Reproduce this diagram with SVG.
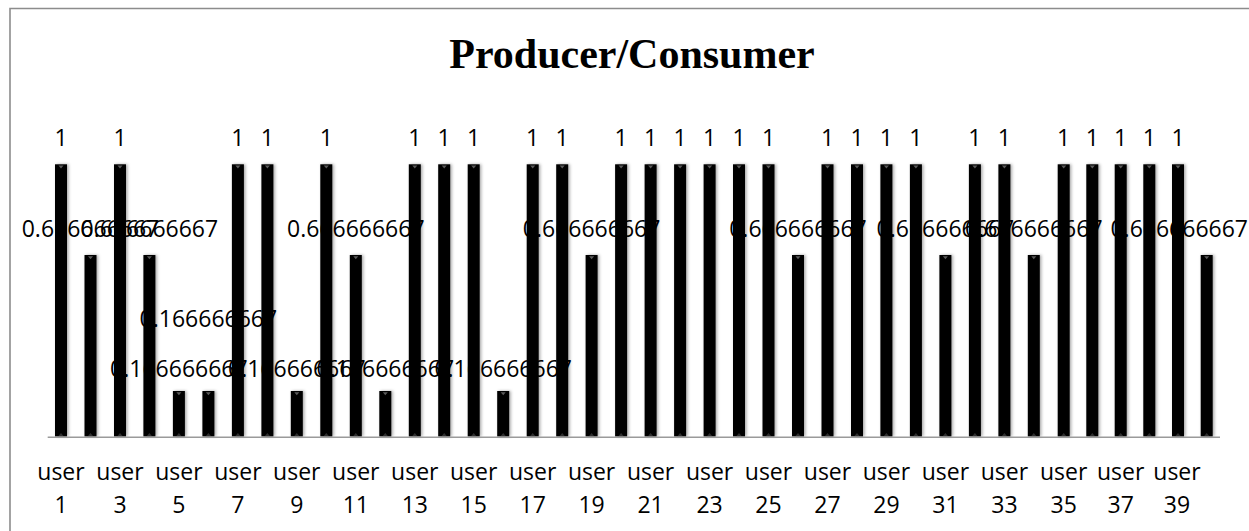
<svg xmlns="http://www.w3.org/2000/svg" width="1249" height="531" viewBox="0 0 1249 531">
<style>
.bg{fill:#fff}
.frame{fill:none;stroke:#8c8c8c;stroke-width:1.6}
.axis{stroke:#9a9a9a;stroke-width:1.6}
.bar{fill:#000;filter:url(#sh)}
.tt{fill:#5a5a5a}
.tb{fill:#2e2e2e}
.lbl{font-family:"Open Sans","Noto Sans",sans-serif;font-size:23px;fill:#000;text-anchor:middle}
.title{font-family:"Liberation Serif","Times New Roman",serif;font-weight:bold;font-size:42px;fill:#000;text-anchor:middle}
</style>
<defs>
<filter id="sh" x="-60%" y="-5%" width="220%" height="110%">
<feDropShadow dx="1.5" dy="0" stdDeviation="1.4" flood-color="#000" flood-opacity="0.35"/>
</filter>
<path id="ttri" d="M-2.5,0 H2.5 L0,3 Z"/>
<path id="btri" d="M-2.5,0 H2.5 L0,-3 Z"/>
</defs>
<rect class="bg" x="0" y="0" width="1249" height="531"/>
<path class="frame" d="M10,531 V8.5 H1249"/>
<text class="title" x="632" y="67.5">Producer/Consumer</text>

<g id="data-labels" class="lbl">
<text x="61" y="146">1</text>
<text x="90.5" y="237.3">0.666666667</text>
<text x="120" y="146">1</text>
<text x="149.4" y="237.3">0.666666667</text>
<text x="178.9" y="376.7">0.166666667</text>
<text x="208.4" y="326.7">0.166666667</text>
<text x="237.9" y="146">1</text>
<text x="267.4" y="146">1</text>
<text x="296.8" y="376.7">0.166666667</text>
<text x="326.3" y="146">1</text>
<text x="355.8" y="237.3">0.666666667</text>
<text x="385.3" y="376.7">0.166666667</text>
<text x="414.8" y="146">1</text>
<text x="444.2" y="146">1</text>
<text x="473.7" y="146">1</text>
<text x="503.2" y="376.7">0.166666667</text>
<text x="532.7" y="146">1</text>
<text x="562.2" y="146">1</text>
<text x="591.6" y="237.3">0.666666667</text>
<text x="621.1" y="146">1</text>
<text x="650.6" y="146">1</text>
<text x="680.1" y="146">1</text>
<text x="709.6" y="146">1</text>
<text x="739" y="146">1</text>
<text x="768.5" y="146">1</text>
<text x="798" y="237.3">0.666666667</text>
<text x="827.5" y="146">1</text>
<text x="857" y="146">1</text>
<text x="886.4" y="146">1</text>
<text x="915.9" y="146">1</text>
<text x="945.4" y="237.3">0.666666667</text>
<text x="974.9" y="146">1</text>
<text x="1004.4" y="146">1</text>
<text x="1033.8" y="237.3">0.666666667</text>
<text x="1063.7" y="146">1</text>
<text x="1092.3" y="146">1</text>
<text x="1120.7" y="146">1</text>
<text x="1149.3" y="146">1</text>
<text x="1178" y="146">1</text>
<text x="1248" y="237.3" style="text-anchor:end">0.666666667</text>
</g>

<g id="bars">
<g id="bar-1"><rect class="bar" x="55" y="164.3" width="12" height="272.2"/><use href="#ttri" class="tt" x="61" y="165.5"/><use href="#btri" class="tb" x="61" y="436"/></g>
<g id="bar-2"><rect class="bar" x="84.5" y="255" width="12" height="181.5"/><use href="#ttri" class="tt" x="90.5" y="256.2"/><use href="#btri" class="tb" x="90.5" y="436"/></g>
<g id="bar-3"><rect class="bar" x="114" y="164.3" width="12" height="272.2"/><use href="#ttri" class="tt" x="120" y="165.5"/><use href="#btri" class="tb" x="120" y="436"/></g>
<g id="bar-4"><rect class="bar" x="143.4" y="255" width="12" height="181.5"/><use href="#ttri" class="tt" x="149.4" y="256.2"/><use href="#btri" class="tb" x="149.4" y="436"/></g>
<g id="bar-5"><rect class="bar" x="172.9" y="391" width="12" height="45.5"/><use href="#ttri" class="tt" x="178.9" y="392.2"/><use href="#btri" class="tb" x="178.9" y="436"/></g>
<g id="bar-6"><rect class="bar" x="202.4" y="391" width="12" height="45.5"/><use href="#ttri" class="tt" x="208.4" y="392.2"/><use href="#btri" class="tb" x="208.4" y="436"/></g>
<g id="bar-7"><rect class="bar" x="231.9" y="164.3" width="12" height="272.2"/><use href="#ttri" class="tt" x="237.9" y="165.5"/><use href="#btri" class="tb" x="237.9" y="436"/></g>
<g id="bar-8"><rect class="bar" x="261.4" y="164.3" width="12" height="272.2"/><use href="#ttri" class="tt" x="267.4" y="165.5"/><use href="#btri" class="tb" x="267.4" y="436"/></g>
<g id="bar-9"><rect class="bar" x="290.8" y="391" width="12" height="45.5"/><use href="#ttri" class="tt" x="296.8" y="392.2"/><use href="#btri" class="tb" x="296.8" y="436"/></g>
<g id="bar-10"><rect class="bar" x="320.3" y="164.3" width="12" height="272.2"/><use href="#ttri" class="tt" x="326.3" y="165.5"/><use href="#btri" class="tb" x="326.3" y="436"/></g>
<g id="bar-11"><rect class="bar" x="349.8" y="255" width="12" height="181.5"/><use href="#ttri" class="tt" x="355.8" y="256.2"/><use href="#btri" class="tb" x="355.8" y="436"/></g>
<g id="bar-12"><rect class="bar" x="379.3" y="391" width="12" height="45.5"/><use href="#ttri" class="tt" x="385.3" y="392.2"/><use href="#btri" class="tb" x="385.3" y="436"/></g>
<g id="bar-13"><rect class="bar" x="408.8" y="164.3" width="12" height="272.2"/><use href="#ttri" class="tt" x="414.8" y="165.5"/><use href="#btri" class="tb" x="414.8" y="436"/></g>
<g id="bar-14"><rect class="bar" x="438.2" y="164.3" width="12" height="272.2"/><use href="#ttri" class="tt" x="444.2" y="165.5"/><use href="#btri" class="tb" x="444.2" y="436"/></g>
<g id="bar-15"><rect class="bar" x="467.7" y="164.3" width="12" height="272.2"/><use href="#ttri" class="tt" x="473.7" y="165.5"/><use href="#btri" class="tb" x="473.7" y="436"/></g>
<g id="bar-16"><rect class="bar" x="497.2" y="391" width="12" height="45.5"/><use href="#ttri" class="tt" x="503.2" y="392.2"/><use href="#btri" class="tb" x="503.2" y="436"/></g>
<g id="bar-17"><rect class="bar" x="526.7" y="164.3" width="12" height="272.2"/><use href="#ttri" class="tt" x="532.7" y="165.5"/><use href="#btri" class="tb" x="532.7" y="436"/></g>
<g id="bar-18"><rect class="bar" x="556.2" y="164.3" width="12" height="272.2"/><use href="#ttri" class="tt" x="562.2" y="165.5"/><use href="#btri" class="tb" x="562.2" y="436"/></g>
<g id="bar-19"><rect class="bar" x="585.6" y="255" width="12" height="181.5"/><use href="#ttri" class="tt" x="591.6" y="256.2"/><use href="#btri" class="tb" x="591.6" y="436"/></g>
<g id="bar-20"><rect class="bar" x="615.1" y="164.3" width="12" height="272.2"/><use href="#ttri" class="tt" x="621.1" y="165.5"/><use href="#btri" class="tb" x="621.1" y="436"/></g>
<g id="bar-21"><rect class="bar" x="644.6" y="164.3" width="12" height="272.2"/><use href="#ttri" class="tt" x="650.6" y="165.5"/><use href="#btri" class="tb" x="650.6" y="436"/></g>
<g id="bar-22"><rect class="bar" x="674.1" y="164.3" width="12" height="272.2"/><use href="#ttri" class="tt" x="680.1" y="165.5"/><use href="#btri" class="tb" x="680.1" y="436"/></g>
<g id="bar-23"><rect class="bar" x="703.6" y="164.3" width="12" height="272.2"/><use href="#ttri" class="tt" x="709.6" y="165.5"/><use href="#btri" class="tb" x="709.6" y="436"/></g>
<g id="bar-24"><rect class="bar" x="733" y="164.3" width="12" height="272.2"/><use href="#ttri" class="tt" x="739" y="165.5"/><use href="#btri" class="tb" x="739" y="436"/></g>
<g id="bar-25"><rect class="bar" x="762.5" y="164.3" width="12" height="272.2"/><use href="#ttri" class="tt" x="768.5" y="165.5"/><use href="#btri" class="tb" x="768.5" y="436"/></g>
<g id="bar-26"><rect class="bar" x="792" y="255" width="12" height="181.5"/><use href="#ttri" class="tt" x="798" y="256.2"/><use href="#btri" class="tb" x="798" y="436"/></g>
<g id="bar-27"><rect class="bar" x="821.5" y="164.3" width="12" height="272.2"/><use href="#ttri" class="tt" x="827.5" y="165.5"/><use href="#btri" class="tb" x="827.5" y="436"/></g>
<g id="bar-28"><rect class="bar" x="851" y="164.3" width="12" height="272.2"/><use href="#ttri" class="tt" x="857" y="165.5"/><use href="#btri" class="tb" x="857" y="436"/></g>
<g id="bar-29"><rect class="bar" x="880.4" y="164.3" width="12" height="272.2"/><use href="#ttri" class="tt" x="886.4" y="165.5"/><use href="#btri" class="tb" x="886.4" y="436"/></g>
<g id="bar-30"><rect class="bar" x="909.9" y="164.3" width="12" height="272.2"/><use href="#ttri" class="tt" x="915.9" y="165.5"/><use href="#btri" class="tb" x="915.9" y="436"/></g>
<g id="bar-31"><rect class="bar" x="939.4" y="255" width="12" height="181.5"/><use href="#ttri" class="tt" x="945.4" y="256.2"/><use href="#btri" class="tb" x="945.4" y="436"/></g>
<g id="bar-32"><rect class="bar" x="968.9" y="164.3" width="12" height="272.2"/><use href="#ttri" class="tt" x="974.9" y="165.5"/><use href="#btri" class="tb" x="974.9" y="436"/></g>
<g id="bar-33"><rect class="bar" x="998.4" y="164.3" width="12" height="272.2"/><use href="#ttri" class="tt" x="1004.4" y="165.5"/><use href="#btri" class="tb" x="1004.4" y="436"/></g>
<g id="bar-34"><rect class="bar" x="1027.8" y="255" width="12" height="181.5"/><use href="#ttri" class="tt" x="1033.8" y="256.2"/><use href="#btri" class="tb" x="1033.8" y="436"/></g>
<g id="bar-35"><rect class="bar" x="1057.7" y="164.3" width="12" height="272.2"/><use href="#ttri" class="tt" x="1063.7" y="165.5"/><use href="#btri" class="tb" x="1063.7" y="436"/></g>
<g id="bar-36"><rect class="bar" x="1086.3" y="164.3" width="12" height="272.2"/><use href="#ttri" class="tt" x="1092.3" y="165.5"/><use href="#btri" class="tb" x="1092.3" y="436"/></g>
<g id="bar-37"><rect class="bar" x="1114.7" y="164.3" width="12" height="272.2"/><use href="#ttri" class="tt" x="1120.7" y="165.5"/><use href="#btri" class="tb" x="1120.7" y="436"/></g>
<g id="bar-38"><rect class="bar" x="1143.3" y="164.3" width="12" height="272.2"/><use href="#ttri" class="tt" x="1149.3" y="165.5"/><use href="#btri" class="tb" x="1149.3" y="436"/></g>
<g id="bar-39"><rect class="bar" x="1172" y="164.3" width="12" height="272.2"/><use href="#ttri" class="tt" x="1178" y="165.5"/><use href="#btri" class="tb" x="1178" y="436"/></g>
<g id="bar-40"><rect class="bar" x="1200.7" y="255" width="12" height="181.5"/><use href="#ttri" class="tt" x="1206.7" y="256.2"/><use href="#btri" class="tb" x="1206.7" y="436"/></g>
</g>

<g id="connectors">
<line class="axis" x1="47.7" y1="437.3" x2="1220" y2="437.3"/>
</g>

<g id="axis-labels" class="lbl">
<text x="61"><tspan x="61" y="480">user</tspan><tspan x="61" y="512.5">1</tspan></text>
<text><tspan x="120" y="480">user</tspan><tspan x="120" y="512.5">3</tspan></text>
<text><tspan x="178.9" y="480">user</tspan><tspan x="178.9" y="512.5">5</tspan></text>
<text><tspan x="237.9" y="480">user</tspan><tspan x="237.9" y="512.5">7</tspan></text>
<text><tspan x="296.8" y="480">user</tspan><tspan x="296.8" y="512.5">9</tspan></text>
<text><tspan x="355.8" y="480">user</tspan><tspan x="355.8" y="512.5">11</tspan></text>
<text><tspan x="414.8" y="480">user</tspan><tspan x="414.8" y="512.5">13</tspan></text>
<text><tspan x="473.7" y="480">user</tspan><tspan x="473.7" y="512.5">15</tspan></text>
<text><tspan x="532.7" y="480">user</tspan><tspan x="532.7" y="512.5">17</tspan></text>
<text><tspan x="591.6" y="480">user</tspan><tspan x="591.6" y="512.5">19</tspan></text>
<text><tspan x="650.6" y="480">user</tspan><tspan x="650.6" y="512.5">21</tspan></text>
<text><tspan x="709.6" y="480">user</tspan><tspan x="709.6" y="512.5">23</tspan></text>
<text><tspan x="768.5" y="480">user</tspan><tspan x="768.5" y="512.5">25</tspan></text>
<text><tspan x="827.5" y="480">user</tspan><tspan x="827.5" y="512.5">27</tspan></text>
<text><tspan x="886.4" y="480">user</tspan><tspan x="886.4" y="512.5">29</tspan></text>
<text><tspan x="945.4" y="480">user</tspan><tspan x="945.4" y="512.5">31</tspan></text>
<text><tspan x="1004.4" y="480">user</tspan><tspan x="1004.4" y="512.5">33</tspan></text>
<text><tspan x="1063.7" y="480">user</tspan><tspan x="1063.7" y="512.5">35</tspan></text>
<text><tspan x="1120.7" y="480">user</tspan><tspan x="1120.7" y="512.5">37</tspan></text>
<text><tspan x="1177" y="480">user</tspan><tspan x="1177" y="512.5">39</tspan></text>
</g>
</svg>
